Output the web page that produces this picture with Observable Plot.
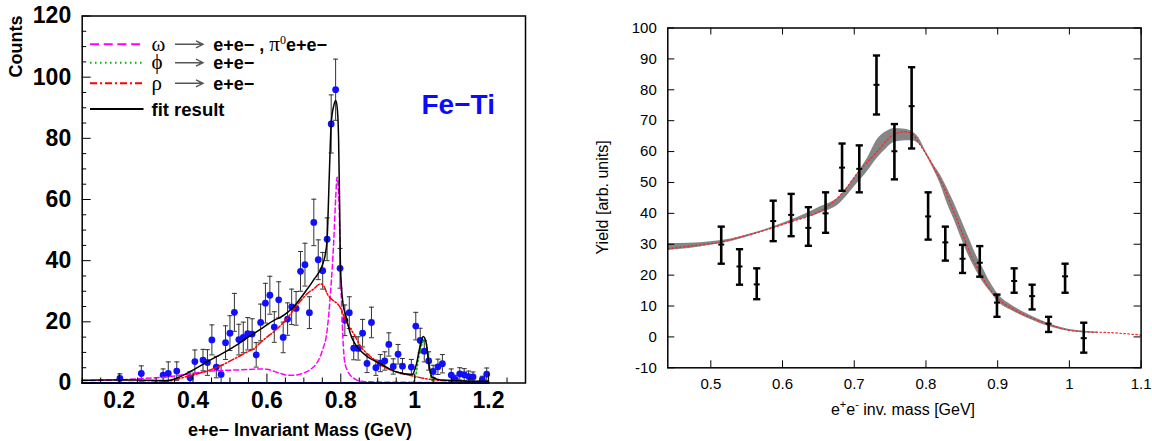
<!DOCTYPE html>
<html><head><meta charset="utf-8">
<script src="https://cdn.jsdelivr.net/npm/d3@7"></script>
<script src="https://cdn.jsdelivr.net/npm/@observablehq/plot@0.6"></script>
<style>
body{margin:0;background:#fff;}
#wrap{position:relative;width:1152px;height:441px;overflow:hidden;background:#fff;}
#left,#right{position:absolute;top:0;}
#left{left:0;} #right{left:570px;}
svg{overflow:visible;}
</style></head><body>
<div id="wrap"><div id="left"></div><div id="right"></div></div>
<script>
// ---------------- LEFT PANEL DATA (Fe-Ti) ----------------
const leftMass = [0.202,0.260,0.319,0.333,0.356,0.392,0.405,0.427,0.439,0.451,0.463,0.476,0.488,0.500,0.512,0.524,0.536,0.548,0.560,0.571,0.583,0.596,0.608,0.620,0.632,0.644,0.656,0.667,0.679,0.691,0.703,0.715,0.727,0.739,0.751,0.763,0.774,0.786,0.798,0.811,0.823,0.835,0.847,0.859,0.871,0.883,0.895,0.907,0.919,0.930,0.942,0.955,0.967,0.991,1.003,1.015,1.026,1.038,1.050,1.063,1.075,1.099,1.110,1.122,1.134,1.146,1.158,1.183,1.195];
const leftCounts = [1.5,3.1,2.6,3.1,3.9,1.7,7.0,7.5,6.7,14.1,5.2,2.8,13.2,16.3,23.1,14.2,14.9,16.1,16.0,9.2,19.8,26.1,28.7,18.3,27.2,14.9,20.9,24.9,24.4,36.5,38.7,23.0,52.5,40.3,36.7,47.0,84.7,95.9,37.5,20.5,23.0,11.4,11.3,16.3,6.4,19.8,5.0,6.5,7.2,12.6,5.4,9.4,5.5,5.2,18.6,13.9,10.4,7.2,3.8,5.3,6.3,2.6,1.2,3.0,2.7,2.1,2.0,1.1,2.9];
const leftErr = [1.5,2.5,2.0,3.8,3.0,2.0,3.8,3.5,4.2,4.9,3.5,3.0,5.5,5.7,6.2,5.0,5.0,5.3,5.0,4.0,6.0,6.5,6.2,5.0,5.9,5.0,5.3,5.8,5.5,6.5,7.0,5.2,7.6,6.5,6.0,7.0,9.5,10.0,6.5,5.0,5.2,3.8,3.8,4.5,3.0,5.0,2.5,2.8,3.0,3.8,2.5,3.2,2.5,2.5,4.5,4.0,3.5,3.0,2.0,2.5,3.0,2.0,1.3,2.0,2.0,1.8,1.6,1.1,2.0];

const fitMass = [0.1,0.15,0.24,0.33,0.366,0.402,0.438,0.474,0.51,0.547,0.583,0.619,0.637,0.655,0.673,0.7,0.727,0.75,0.758,0.763,0.769,0.774,0.781,0.7865,0.791,0.794,0.797,0.799,0.8065,0.813,0.826,0.853,0.87,0.889,0.907,0.953,0.993,1.005,1.014,1.023,1.031,1.037,1.047,1.07,1.196,1.2];
const fitCounts = [0.9,1.0,1.0,0.8,2.1,4.4,6.9,9.3,11.8,14.8,17.6,20.5,21.5,23.0,25.0,29.2,33.8,38.5,42.0,47.0,68.4,84.8,90.7,92.4,89.0,80.0,57.5,38.0,25.5,22.3,16.1,10.6,8.8,7.4,6.3,3.5,2.8,6.3,11.7,15.2,13.3,7.4,1.9,1.0,0.6,0.6];

const omegaMass = [0.1,0.2,0.25,0.3,0.33,0.38,0.42,0.45,0.5,0.55,0.58,0.6,0.62,0.64,0.66,0.68,0.7,0.72,0.735,0.75,0.763,0.772,0.781,0.786,0.79,0.795,0.799,0.804,0.81,0.818,0.826,0.84,0.853,0.9,1.0,1.2];
const omegaCounts = [0.8,1.0,1.4,1.7,2.0,2.8,3.5,3.9,4.2,4.4,4.6,4.5,3.8,3.0,2.5,2.6,3.3,4.6,6.5,10.6,17.2,29.2,46.6,60.0,67.3,59.7,37.9,19.4,7.4,4.0,2.5,1.2,0.6,0.3,0.2,0.1];

const rhoMass = [0.1,0.3,0.35,0.376,0.4,0.437,0.474,0.51,0.529,0.549,0.565,0.583,0.6,0.619,0.64,0.655,0.67,0.691,0.71,0.727,0.745,0.755,0.763,0.777,0.79,0.799,0.813,0.835,0.856,0.872,0.884,0.921,0.958,0.995,1.04,1.088,1.18,1.2];
const rhoCounts = [0.0,0.3,1.0,1.9,2.6,3.9,5.6,7.8,9.0,10.3,11.2,13.3,15.0,16.8,19.2,21.2,23.5,26.8,29.3,30.8,32.4,31.5,29.2,27.2,26.0,24.6,20.4,16.1,11.6,9.5,8.3,5.0,3.4,2.3,1.2,0.7,0.3,0.3];

const phiMass = [0.1,0.98,0.995,1.002,1.011,1.02,1.026,1.03,1.036,1.041,1.047,1.06,1.2];
const phiCounts = [0,0,0.3,1.9,8.4,12.8,14.2,13.6,9.5,4.1,0.8,0,0];

const bgMass = [0.1,1.2];
const bgCounts = [0,0];

const leftXTicks = [0.2,0.4,0.6,0.8,1.0,1.2];
const leftXMinor = [0.1,0.15,0.25,0.3,0.35,0.45,0.5,0.55,0.65,0.7,0.75,0.85,0.9,0.95,1.05,1.1,1.15,1.25];
const leftYTicks = [0,20,40,60,80,100,120];
const leftYMinor = [5,10,15,25,30,35,45,50,55,65,70,75,85,90,95,105,110,115];

// ---------------- RIGHT PANEL DATA ----------------
const rightMass = [0.5145,0.540,0.564,0.587,0.612,0.636,0.660,0.683,0.707,0.731,0.756,0.780,0.803,0.827,0.851,0.875,0.899,0.923,0.948,0.971,0.994,1.020];
const rightYield = [29.9,22.8,17.0,37.5,39.5,35.3,40.0,54.8,54.4,81.6,60.1,74.7,39.0,30.6,25.3,24.0,11.1,18.1,13.2,4.3,19.6,-0.4];
const rightHigh = [35.7,28.4,22.2,44.1,46.3,42.0,46.8,62.6,62.0,91.1,68.9,87.3,46.8,35.7,29.8,29.4,13.7,22.2,16.9,6.5,23.7,4.6];
const rightLow = [23.7,16.9,12.2,31.0,32.6,29.5,33.7,47.3,46.8,72.0,51.0,61.0,31.5,24.7,20.7,19.5,6.5,14.3,8.9,1.6,14.3,-5.1];

const bandMass = [0.44,0.47,0.50,0.53,0.56,0.59,0.62,0.65,0.68,0.70,0.72,0.731,0.745,0.756,0.771,0.78,0.79,0.80,0.81,0.82,0.83,0.84,0.85,0.86,0.87,0.88,0.89,0.90,0.92,0.94,0.96,0.98,1.00,1.02,1.04];
const bandLow = [28.0,28.6,29.7,31.0,33.0,35.3,37.6,39.8,43.2,48.5,54.0,57.5,61.0,63.0,63.5,63.5,62.5,59.0,54.5,49.5,43.0,37.5,31.5,26.0,21.5,17.5,14.5,11.5,8.5,6.2,4.3,2.8,1.8,1.3,1.2];
const bandHigh = [30.2,30.3,30.8,31.8,33.6,35.9,38.6,41.8,45.5,51.5,58.5,63.5,66.5,67.5,67.2,66.5,64.5,60.0,56.0,52.5,48.0,43.0,37.5,32.0,26.5,22.0,17.5,14.0,10.2,7.6,5.4,3.6,2.4,1.8,1.5];

const modelMass = [0.44,0.46,0.485,0.5145,0.537,0.563,0.589,0.615,0.636,0.66,0.683,0.707,0.731,0.745,0.756,0.771,0.78,0.791,0.803,0.817,0.827,0.838,0.851,0.864,0.875,0.887,0.899,0.923,0.948,0.971,0.994,1.02,1.056,1.1];
const modelYield = [28.5,29.1,29.8,30.7,32.1,33.7,35.5,37.5,39.0,41.8,46.5,53.8,59.7,63.5,65.7,66.4,65.9,62.4,58.1,52.2,47.4,40.9,33.4,25.8,21.0,16.1,12.7,8.8,6.1,4.1,2.4,1.7,1.4,0.6];

const rightXTicks = [0.5,0.6,0.7,0.8,0.9,1.0,1.1];
const rightYTicks = [-10,0,10,20,30,40,50,60,70,80,90,100];

// ---------------- helpers ----------------
const zip = (xs, ys) => xs.map((x, i) => ({x, y: ys[i]}));
const hbar = (half) => ({draw(ctx) { ctx.moveTo(-half, 0); ctx.lineTo(half, 0); }});
const fmt = d => String(+d.toFixed(2));

// ---------------- LEFT PLOT ----------------
const W1 = 540, H1 = 441, mL1 = 81.7, mT1 = 15.5, mR1 = 15, mB1 = 58.5;
const fw1 = W1 - mL1 - mR1, fh1 = H1 - mT1 - mB1;
const FONT = "'Liberation Sans', Arial, Helvetica, sans-serif";
const SERIF = "'Liberation Serif', 'DejaVu Serif', serif";
const leftPts = leftMass.map((x, i) => ({x, y: leftCounts[i], e: leftErr[i]}));

const left = Plot.plot({
  width: W1, height: H1,
  marginLeft: mL1, marginTop: mT1, marginRight: mR1, marginBottom: mB1,
  x: {domain: [0.1, 1.3]},
  y: {domain: [0, 120]},
  style: {fontFamily: FONT, background: "transparent", color: "black"},
  marks: [
    Plot.ruleX(leftPts, {x: "x", y1: d => d.y - d.e, y2: d => d.y + d.e, stroke: "#333", strokeWidth: 1, clip: true}),
    Plot.dot(leftPts, {x: "x", y: d => d.y + d.e, symbol: hbar(2.5), fill: "none", stroke: "#333", strokeWidth: 1}),
    Plot.dot(leftPts, {x: "x", y: d => d.y - d.e, symbol: hbar(2.5), fill: "none", stroke: "#333", strokeWidth: 1, clip: true}),
    Plot.dot(leftPts, {x: "x", y: "y", r: 3.4, fill: "#1010ff", stroke: "none"}),
    Plot.line(zip(omegaMass, omegaCounts), {x: "x", y: "y", curve: "monotone-x", stroke: "#ff00ff", strokeWidth: 1.5, strokeDasharray: "5,3"}),
    Plot.line(zip(rhoMass, rhoCounts), {x: "x", y: "y", curve: "monotone-x", stroke: "#ff0000", strokeWidth: 1.5, strokeDasharray: "6,2,1.5,2"}),
    Plot.line(zip(phiMass, phiCounts), {x: "x", y: "y", curve: "monotone-x", stroke: "#00b000", strokeWidth: 1.5, strokeDasharray: "1.5,2.5"}),
    Plot.line(zip(fitMass, fitCounts), {x: "x", y: "y", curve: "monotone-x", stroke: "black", strokeWidth: 1.5}),
    Plot.line(zip(bgMass, bgCounts), {x: "x", y: "y", stroke: "#0000ff", strokeWidth: 2.2}),
    Plot.tickX(leftXMinor, {x: d => d, insetTop: fh1 - 5, stroke: "black", strokeWidth: 1}),
    Plot.tickX(leftXTicks, {x: d => d, insetTop: fh1 - 9, stroke: "black", strokeWidth: 1}),
    Plot.tickY(leftYMinor, {y: d => d, insetRight: fw1 - 4.5, stroke: "black", strokeWidth: 1}),
    Plot.tickY(leftYTicks, {y: d => d, insetRight: fw1 - 9, stroke: "black", strokeWidth: 1}),
    Plot.axisX({ticks: leftXTicks, tickSize: 0, tickPadding: 9, tickFormat: fmt, fontSize: 23, fontWeight: "bold", label: null}),
    Plot.axisY({ticks: leftYTicks, tickSize: 0, tickPadding: 11, tickFormat: fmt, fontSize: 23, fontWeight: "bold", label: null}),
    Plot.frame({stroke: "black", strokeWidth: 1.5})
  ]
});
document.getElementById("left").appendChild(left);

{
  const s = d3.select(left);
  // axis titles
  s.append("text").attr("transform", "translate(22,15.5) rotate(-90)")
    .attr("text-anchor", "end").attr("font-family", FONT).attr("font-weight", "bold")
    .attr("font-size", 18).attr("fill", "black").text("Counts");
  s.append("text").attr("x", 300).attr("y", 435.5).attr("text-anchor", "middle")
    .attr("font-family", FONT).attr("font-weight", "bold").attr("font-size", 18)
    .attr("fill", "black").text("e+e\u2212 Invariant Mass (GeV)");
  // Fe-Ti label
  s.append("text").attr("x", 421.5).attr("y", 113.5).attr("text-anchor", "start").attr("font-family", FONT)
    .attr("font-weight", "bold").attr("font-size", 28).attr("fill", "#0a0aff").text("Fe\u2212Ti");
  // legend
  const rows = [
    {y: 44.3, stroke: "#ff00ff", dash: "9,4.7", sym: "\u03c9", extra: true},
    {y: 62.7, stroke: "#00b000", dash: "1.5,3.5", sym: "\u03d5"},
    {y: 83.3, stroke: "#ff0000", dash: "7,3,2,3", sym: "\u03c1"},
    {y: 109, stroke: "black", dash: null, sym: null}
  ];
  const g = s.append("g").attr("text-anchor", "start");
  rows.forEach(r => {
    g.append("line").attr("x1", 90).attr("x2", 143.5).attr("y1", r.y).attr("y2", r.y)
      .attr("stroke", r.stroke).attr("stroke-width", r.dash ? 2 : 2.2)
      .attr("stroke-dasharray", r.dash);
    if (r.sym) {
      g.append("text").attr("x", 151.5).attr("y", r.y).attr("dy", "0.3em").attr("text-anchor", "start")
        .attr("font-family", SERIF).attr("font-size", 21).attr("fill", "black").text(r.sym);
      g.append("path").attr("d", `M175,${r.y}H203M196,${r.y - 3.5}L203,${r.y}L196,${r.y + 3.5}`)
        .attr("fill", "none").attr("stroke", "#555").attr("stroke-width", 1.4);
      const t = g.append("text").attr("x", 213.3).attr("y", r.y).attr("dy", "0.36em").attr("text-anchor", "start")
        .attr("font-family", FONT).attr("font-weight", "bold").attr("font-size", 18).attr("fill", "black");
      t.append("tspan").text(r.extra ? "e+e\u2212 , " : "e+e\u2212");
      if (r.extra) {
        t.append("tspan").attr("font-family", SERIF).attr("font-weight", "normal").attr("font-size", 21).text("\u03c0");
        t.append("tspan").attr("font-family", SERIF).attr("font-weight", "normal").attr("font-size", 12).attr("dy", -7).text("0");
        t.append("tspan").attr("dy", 7).text("e+e\u2212");
      }
    } else {
      g.append("text").attr("x", 151.5).attr("y", r.y).attr("dy", "0.36em").attr("text-anchor", "start")
        .attr("font-family", FONT).attr("font-weight", "bold").attr("font-size", 18.5)
        .attr("fill", "black").text("fit result");
    }
  });
}

// ---------------- RIGHT PLOT ----------------
const W2 = 582, H2 = 441, mL2 = 97.3, mT2 = 27.5, mR2 = 11.4, mB2 = 73.7;
const fw2 = W2 - mL2 - mR2, fh2 = H2 - mT2 - mB2;
const rightPts = rightMass.map((x, i) => ({x, y: rightYield[i], lo: rightLow[i], hi: rightHigh[i]}));
const band = bandMass.map((x, i) => ({x, lo: bandLow[i], hi: bandHigh[i]}));

const right = Plot.plot({
  width: W2, height: H2,
  marginLeft: mL2, marginTop: mT2, marginRight: mR2, marginBottom: mB2,
  x: {domain: [0.44, 1.1]},
  y: {domain: [-10, 100]},
  style: {fontFamily: FONT, background: "transparent", color: "black"},
  marks: [
    Plot.areaY(band, {x: "x", y1: "lo", y2: "hi", fill: "#858585", curve: "monotone-x"}),
    Plot.line(zip(modelMass, modelYield), {x: "x", y: "y", curve: "monotone-x", stroke: "#ff2020", strokeWidth: 1.2, strokeDasharray: "1.5,2.5"}),
    Plot.ruleX(rightPts, {x: "x", y1: "lo", y2: "hi", stroke: "black", strokeWidth: 2.6}),
    Plot.dot(rightPts, {x: "x", y: "hi", symbol: hbar(3.6), fill: "none", stroke: "black", strokeWidth: 2.4}),
    Plot.dot(rightPts, {x: "x", y: "lo", symbol: hbar(3.6), fill: "none", stroke: "black", strokeWidth: 2.4}),
    Plot.dot(rightPts, {x: "x", y: "y", symbol: hbar(3), fill: "none", stroke: "black", strokeWidth: 2}),
    Plot.tickX(rightXTicks, {x: d => d, insetTop: fh2 - 7, stroke: "black", strokeWidth: 1}),
    Plot.tickX(rightXTicks, {x: d => d, insetBottom: fh2 - 7, stroke: "black", strokeWidth: 1}),
    Plot.tickY(rightYTicks, {y: d => d, insetRight: fw2 - 7, stroke: "black", strokeWidth: 1}),
    Plot.tickY(rightYTicks, {y: d => d, insetLeft: fw2 - 7, stroke: "black", strokeWidth: 1}),
    Plot.axisX({ticks: rightXTicks, tickSize: 0, tickPadding: 11, tickFormat: fmt, fontSize: 15, label: null}),
    Plot.axisY({ticks: rightYTicks, tickSize: 0, tickPadding: 11, tickFormat: fmt, fontSize: 15, label: null}),
    Plot.frame({stroke: "black", strokeWidth: 1.5})
  ]
});
document.getElementById("right").appendChild(right);

{
  const s = d3.select(right);
  const t = s.append("text").attr("x", 903 - 570).attr("y", 415).attr("text-anchor", "middle")
    .attr("font-family", FONT).attr("font-size", 16).attr("fill", "black");
  t.append("tspan").text("e");
  t.append("tspan").attr("font-size", 11).attr("dy", -7).text("+");
  t.append("tspan").attr("dy", 7).text("e");
  t.append("tspan").attr("font-size", 11).attr("dy", -7).text("-");
  t.append("tspan").attr("dy", 7).text(" inv. mass [GeV]");
  s.append("text").attr("transform", `translate(${602 - 570 + 5.5},${mT2 + fh2 / 2}) rotate(-90)`)
    .attr("text-anchor", "middle").attr("font-family", FONT).attr("font-size", 16)
    .attr("fill", "black").text("Yield [arb. units]");
}
</script>
</body></html>
